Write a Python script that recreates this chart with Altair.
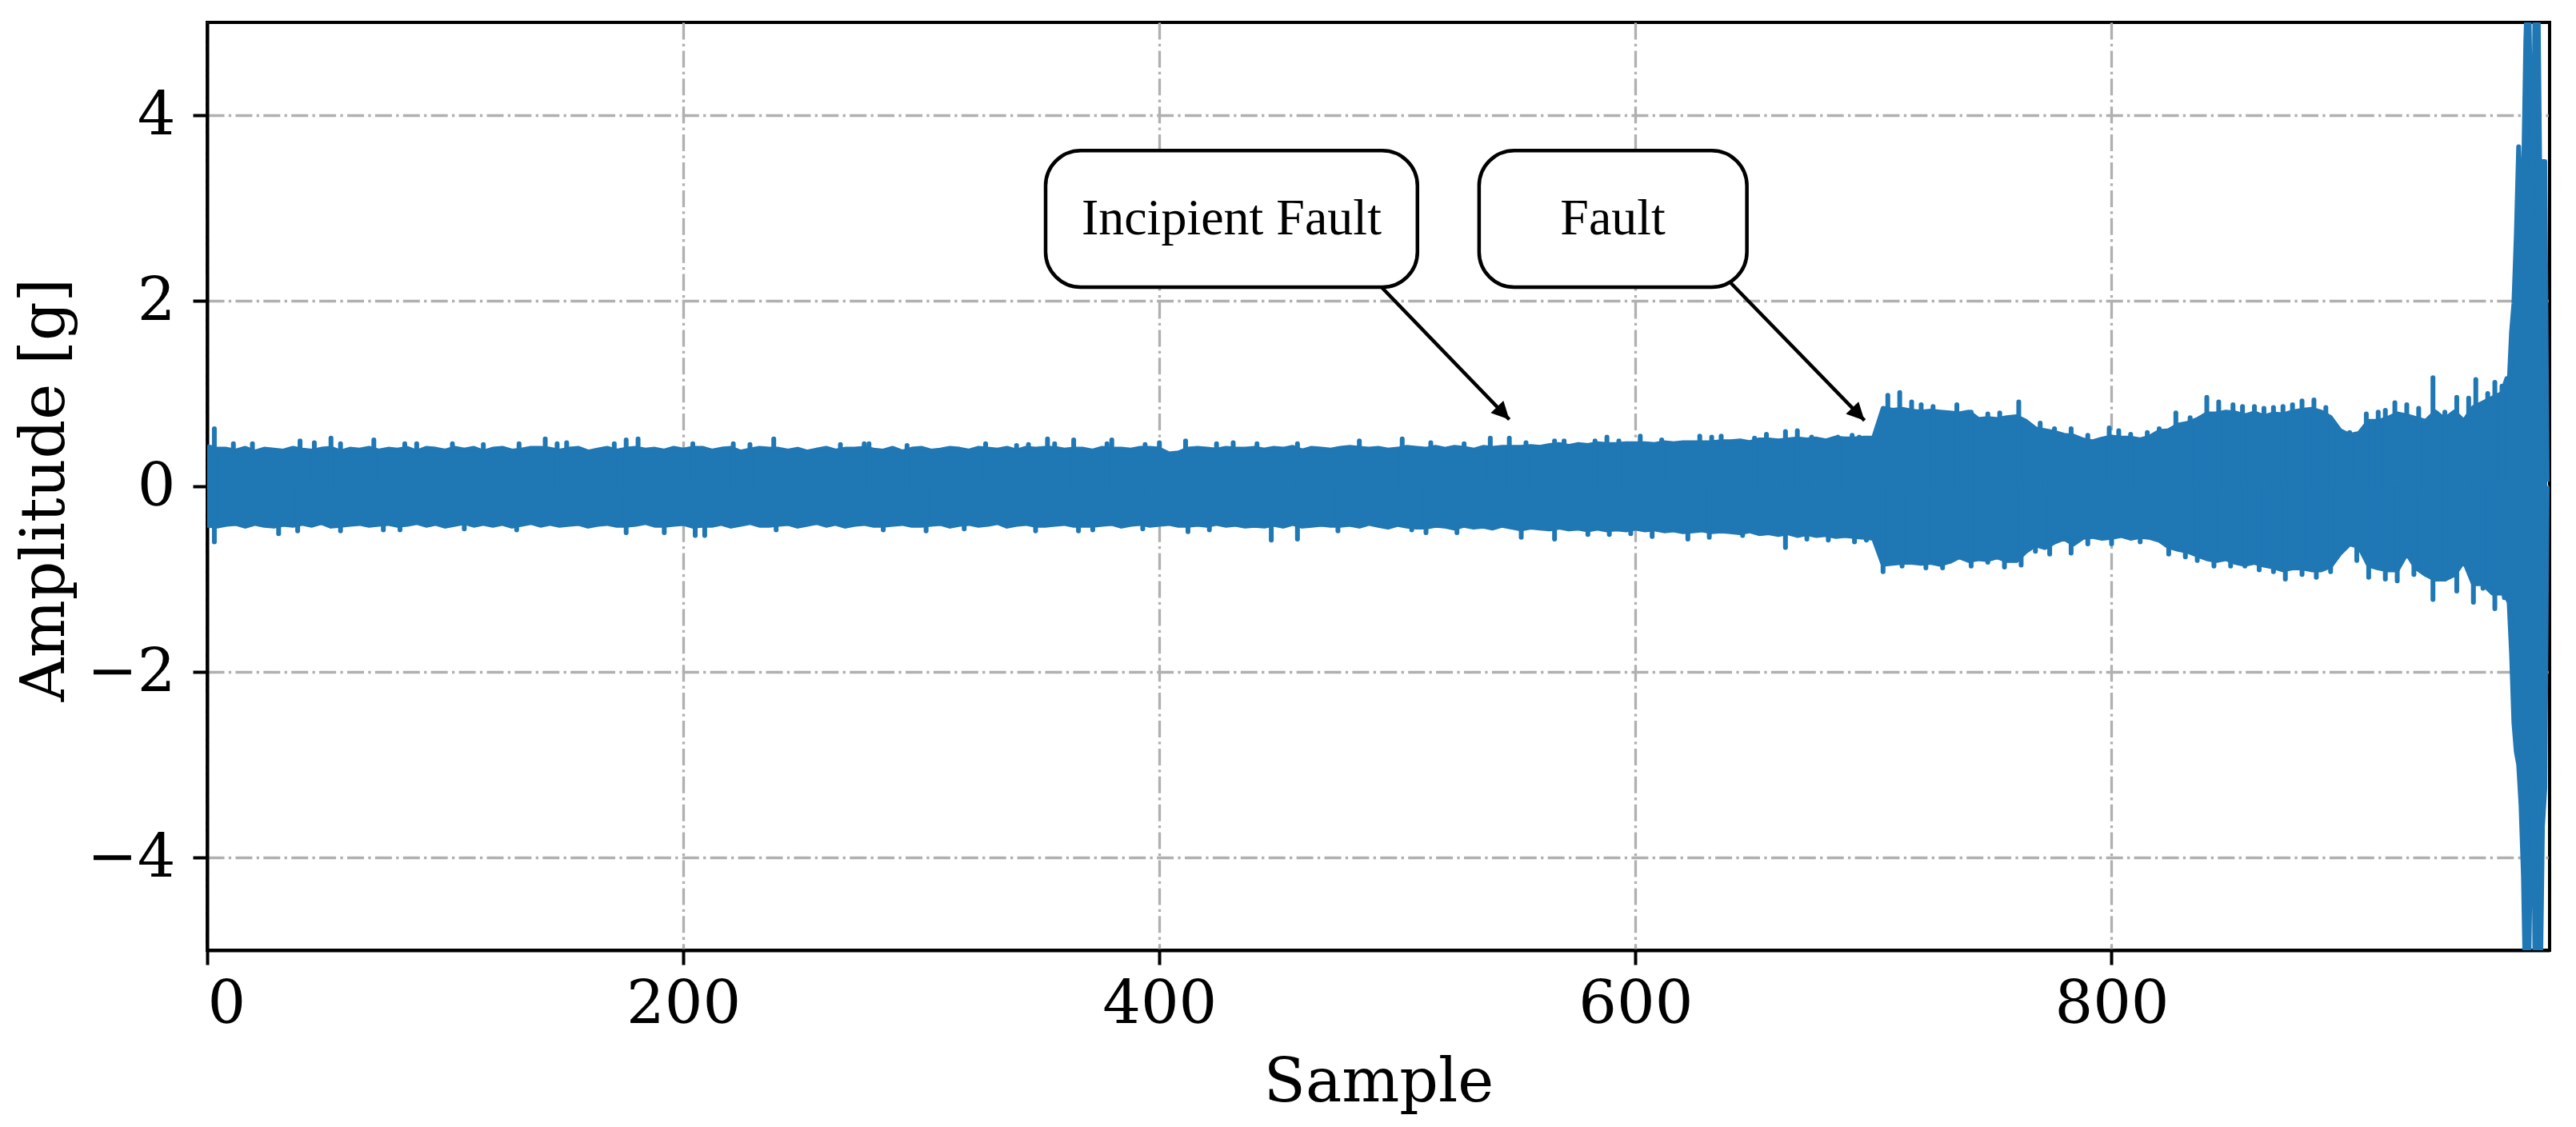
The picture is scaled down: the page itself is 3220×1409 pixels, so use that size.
import altair as alt
import pandas as pd

# ---- signal envelope (sample index -> amplitude in g) ----
coarse_samples = list(range(0, 965, 4))
end_samples = list(range(966, 984))

upper_coarse = [
    0.43, 0.40, 0.40, 0.38, 0.41, 0.37, 0.40, 0.39, 0.38, 0.41,
    0.39, 0.38, 0.40, 0.41, 0.37, 0.40, 0.39, 0.41, 0.38, 0.40,
    0.39, 0.41, 0.37, 0.41, 0.40, 0.38, 0.41, 0.39, 0.41, 0.37,
    0.40, 0.41, 0.38, 0.39, 0.41, 0.41, 0.40, 0.38, 0.40, 0.41,
    0.37, 0.39, 0.41, 0.38, 0.40, 0.41, 0.39, 0.40, 0.38, 0.41,
    0.39, 0.41, 0.41, 0.38, 0.40, 0.41, 0.37, 0.39, 0.41, 0.40,
    0.40, 0.38, 0.40, 0.37, 0.39, 0.41, 0.38, 0.40, 0.40, 0.41,
    0.39, 0.38, 0.41, 0.37, 0.40, 0.41, 0.38, 0.39, 0.41, 0.40,
    0.38, 0.41, 0.40, 0.39, 0.41, 0.38, 0.41, 0.40, 0.41, 0.41,
    0.39, 0.40, 0.40, 0.38, 0.41, 0.40, 0.40, 0.39, 0.41, 0.41,
    0.40, 0.35, 0.36, 0.40, 0.41, 0.40, 0.39, 0.41, 0.40, 0.40,
    0.41, 0.39, 0.41, 0.40, 0.42, 0.38, 0.41, 0.40, 0.39, 0.41,
    0.42, 0.41, 0.40, 0.41, 0.39, 0.40, 0.42, 0.41, 0.40, 0.42,
    0.40, 0.42, 0.41, 0.39, 0.42, 0.41, 0.42, 0.42, 0.42, 0.43,
    0.42, 0.44, 0.45, 0.43, 0.45, 0.44, 0.46, 0.45, 0.45, 0.46,
    0.46, 0.46, 0.45, 0.47, 0.46, 0.47, 0.47, 0.47, 0.47, 0.48,
    0.48, 0.49, 0.47, 0.50, 0.50, 0.49, 0.50, 0.51, 0.50, 0.51,
    0.49, 0.52, 0.51, 0.51, 0.52, 0.52, 0.84, 0.82, 0.83, 0.81,
    0.80, 0.81, 0.80, 0.79, 0.78, 0.80, 0.72, 0.73, 0.72, 0.74,
    0.75, 0.70, 0.62, 0.60, 0.58, 0.55, 0.54, 0.50, 0.48, 0.51,
    0.53, 0.52, 0.52, 0.50, 0.53, 0.59, 0.60, 0.66, 0.68, 0.72,
    0.78, 0.78, 0.80, 0.79, 0.76, 0.79, 0.75, 0.78, 0.77, 0.80,
    0.82, 0.83, 0.80, 0.74, 0.60, 0.55, 0.57, 0.70, 0.70, 0.73,
    0.78, 0.76, 0.73, 0.70, 0.80, 0.72, 0.80, 0.70, 0.85, 0.90,
    0.95, 1.00,
]
lower_coarse = [
    -0.42, -0.43, -0.41, -0.40, -0.43, -0.40, -0.42, -0.43, -0.41, -0.42,
    -0.40, -0.42, -0.39, -0.43, -0.42, -0.41, -0.40, -0.42, -0.41, -0.40,
    -0.42, -0.41, -0.39, -0.42, -0.40, -0.43, -0.41, -0.39, -0.42, -0.40,
    -0.42, -0.40, -0.43, -0.41, -0.39, -0.42, -0.40, -0.42, -0.41, -0.40,
    -0.43, -0.41, -0.40, -0.42, -0.42, -0.41, -0.39, -0.42, -0.42, -0.41,
    -0.40, -0.43, -0.42, -0.42, -0.40, -0.43, -0.41, -0.39, -0.42, -0.42,
    -0.41, -0.40, -0.43, -0.41, -0.39, -0.42, -0.40, -0.43, -0.41, -0.40,
    -0.42, -0.42, -0.41, -0.40, -0.42, -0.42, -0.41, -0.40, -0.43, -0.41,
    -0.40, -0.42, -0.41, -0.39, -0.43, -0.41, -0.40, -0.42, -0.42, -0.41,
    -0.40, -0.42, -0.42, -0.42, -0.41, -0.40, -0.43, -0.41, -0.40, -0.42,
    -0.41, -0.40, -0.42, -0.42, -0.41, -0.42, -0.40, -0.42, -0.41, -0.43,
    -0.42, -0.43, -0.41, -0.43, -0.40, -0.43, -0.42, -0.41, -0.42, -0.42,
    -0.41, -0.43, -0.40, -0.42, -0.44, -0.41, -0.43, -0.44, -0.44, -0.42,
    -0.43, -0.45, -0.42, -0.44, -0.43, -0.45, -0.42, -0.44, -0.46, -0.44,
    -0.45, -0.46, -0.44, -0.46, -0.45, -0.47, -0.45, -0.47, -0.46, -0.47,
    -0.45, -0.47, -0.46, -0.48, -0.47, -0.49, -0.48, -0.47, -0.49, -0.48,
    -0.49, -0.50, -0.48, -0.51, -0.50, -0.52, -0.50, -0.53, -0.51, -0.53,
    -0.52, -0.54, -0.53, -0.54, -0.55, -0.56, -0.84, -0.83, -0.82, -0.82,
    -0.83, -0.82, -0.84, -0.81, -0.76, -0.80, -0.78, -0.79, -0.76, -0.80,
    -0.80, -0.70, -0.63, -0.66, -0.60, -0.56, -0.62, -0.55, -0.54, -0.56,
    -0.55, -0.53, -0.56, -0.54, -0.55, -0.58, -0.65, -0.68, -0.70, -0.74,
    -0.78, -0.80, -0.78, -0.82, -0.84, -0.82, -0.85, -0.87, -0.90, -0.88,
    -0.88, -0.90, -0.90, -0.86, -0.72, -0.62, -0.65, -0.85, -0.88, -0.90,
    -0.90, -0.72, -0.88, -0.95, -1.00, -1.00, -0.95, -0.80, -1.05, -1.05,
    -1.15, -1.15,
]
upper_end = [1.16, 1.10, 1.66, 1.97, 2.70, 3.66, 2.83, 3.24, 4.80, 5.60,
             4.10, 2.80, 5.60, 5.60, 3.05, 3.50, 3.50, 0.05]
lower_end = [-1.20, -1.25, -1.79, -2.55, -2.86, -3.00, -3.44, -4.20, -5.60, -5.60,
             -3.90, -2.47, -5.60, -5.60, -5.60, -3.67, -3.25, 0.00]

# single-sample peaks standing out of the envelope
peak_up_samples = [
    3, 11, 19, 39, 45, 52, 56, 70, 83, 88, 103, 116, 131, 142, 147, 151, 171, 176, 181,
    204, 221, 228, 238, 266, 276, 278, 294, 327, 340, 345, 353, 356, 364, 378, 380, 394,
    400, 411, 424, 431, 441, 458, 484, 502, 514, 528, 539, 547, 554, 566, 570, 583, 588,
    593, 602, 611, 627, 632, 636, 650, 655, 663, 668, 674, 685, 691, 694, 706, 711, 716,
    720, 725, 735, 753, 761, 783, 799, 808, 827, 840, 845, 851, 860, 868, 880, 885, 890,
    907, 919, 924, 935, 945, 953, 961, 964,
    741, 748, 770, 776, 790, 803, 815, 820, 833, 855, 864, 872, 876, 895, 900, 912, 915,
    929, 940, 950, 958,
]
peak_up_values = [
    0.62, 0.46, 0.46, 0.49, 0.47, 0.52, 0.46, 0.50, 0.46, 0.46, 0.46, 0.45, 0.46, 0.51, 0.46, 0.47, 0.46, 0.50, 0.51,
    0.46, 0.46, 0.45, 0.51, 0.45, 0.46, 0.46, 0.44, 0.46, 0.44, 0.45, 0.51, 0.46, 0.50, 0.46, 0.50, 0.45,
    0.47, 0.49, 0.46, 0.47, 0.46, 0.46, 0.49, 0.51, 0.47, 0.46, 0.52, 0.52, 0.47, 0.49, 0.49, 0.49, 0.53,
    0.49, 0.54, 0.50, 0.54, 0.53, 0.54, 0.52, 0.56, 0.59, 0.60, 0.53, 0.53, 0.55, 0.53, 0.98, 1.01, 0.91,
    0.88, 0.86, 0.88, 0.79, 0.91, 0.62, 0.63, 0.56, 0.79, 0.96, 0.91, 0.88, 0.86, 0.85, 0.92, 0.93, 0.85,
    0.78, 0.90, 0.88, 1.17, 0.96, 1.15, 1.12, 1.08,
    0.80, 0.78, 0.68, 0.62, 0.55, 0.60, 0.58, 0.62, 0.74, 0.86, 0.84, 0.86, 0.88, 0.62, 0.58, 0.80, 0.82,
    0.84, 0.80, 0.95, 1.00,
]
peak_lo_samples = [
    3, 30, 38, 56, 74, 81, 108, 130, 176, 192, 205, 209, 239, 284, 302, 318, 348, 366,
    372, 393, 412, 421, 447, 458, 475, 506, 512, 525, 552, 566, 580, 589, 598, 607, 622,
    631, 645, 663, 672, 681, 692, 697, 704, 712, 722, 729, 741, 755, 762, 774, 783, 824,
    831, 843, 856, 873, 886, 908, 915, 935, 945, 952, 961, 965,
    748, 768, 790, 800, 812, 836, 850, 862, 868, 880, 892, 903, 920, 927, 940, 956,
]
peak_lo_values = [
    -0.60, -0.51, -0.48, -0.48, -0.47, -0.47, -0.46, -0.47, -0.50, -0.50, -0.53, -0.53, -0.47, -0.47, -0.48, -0.46, -0.48, -0.48,
    -0.47, -0.46, -0.49, -0.47, -0.58, -0.57, -0.48, -0.47, -0.50, -0.50, -0.55, -0.57, -0.52, -0.52, -0.51, -0.54, -0.57,
    -0.55, -0.53, -0.66, -0.57, -0.58, -0.60, -0.58, -0.92, -0.86, -0.88, -0.88, -0.86, -0.87, -0.85, -0.73, -0.72, -0.73,
    -0.76, -0.86, -0.86, -1.00, -0.98, -0.98, -1.00, -1.22, -1.13, -1.25, -1.32, -1.20,
    -0.82, -0.70, -0.62, -0.62, -0.60, -0.80, -0.86, -0.90, -0.92, -0.95, -0.92, -0.80, -1.02, -0.95, -1.00, -1.10,
]

# ---- annotations (data coordinates) ----
labels = ["Incipient Fault", "Fault"]
box_x0 = [352.2, 534.3]
box_x1 = [508.4, 646.8]
box_y0 = [2.147, 2.147]
box_y1 = [3.619, 3.619]
text_x = [430.3, 590.5]
text_y = [2.883, 2.883]
tail_x = [493.3, 640.1]
tail_y = [2.147, 2.19]
tip_x = [547.0, 696.2]
tip_y = [0.72, 0.71]
head_angle = [136, 136]

sig = pd.DataFrame({
    "sample": coarse_samples + end_samples,
    "upper": upper_coarse + upper_end,
    "lower": lower_coarse + lower_end,
})
peaks = pd.DataFrame({
    "sample": peak_up_samples + peak_lo_samples,
    "v": peak_up_values + peak_lo_values,
})
ann = pd.DataFrame({
    "label": labels, "bx0": box_x0, "bx1": box_x1, "by0": box_y0, "by1": box_y1,
    "tx": text_x, "ty": text_y, "ax0": tail_x, "ay0": tail_y, "ax1": tip_x, "ay1": tip_y,
    "ang": head_angle,
})

BLUE = "#1f77b4"
xscale = alt.Scale(domain=[0, 984], nice=False, zero=False)
yscale = alt.Scale(domain=[-5, 5], nice=False)

xaxis = alt.Axis(values=[0, 200, 400, 600, 800], format="d", title="Sample",
                 labelPadding=13, titleY=188, titleBaseline="alphabetic")
yaxis = alt.Axis(values=[-4, -2, 0, 2, 4], format="d", title="Amplitude [g]",
                 labelExpr="replace(datum.label, '-', '\u2212')", labelLimit=500,
                 labelPadding=22, titleX=-180, titleY=584, titleAngle=-90,
                 titleBaseline="alphabetic", titleAlign="center")

base = alt.Chart(sig)
area = base.mark_area(color=BLUE, clip=True, opacity=1).encode(
    x=alt.X("sample:Q", scale=xscale, axis=xaxis),
    y=alt.Y("lower:Q", scale=yscale, axis=yaxis),
    y2="upper:Q",
)
up_line = base.mark_line(color=BLUE, strokeWidth=6, clip=True, strokeJoin="round").encode(
    x=alt.X("sample:Q", scale=xscale), y=alt.Y("upper:Q", scale=yscale))
lo_line = base.mark_line(color=BLUE, strokeWidth=6, clip=True, strokeJoin="round").encode(
    x=alt.X("sample:Q", scale=xscale), y=alt.Y("lower:Q", scale=yscale))
spikes = alt.Chart(peaks).mark_rule(color=BLUE, strokeWidth=6, strokeCap="round", clip=True).encode(
    x=alt.X("sample:Q", scale=xscale), y=alt.Y("v:Q", scale=yscale), y2=alt.datum(0))

a = alt.Chart(ann)
boxes = a.mark_rect(fill="white", stroke="black", strokeWidth=4.5, cornerRadius=44).encode(
    x=alt.X("bx0:Q", scale=xscale), x2="bx1:Q",
    y=alt.Y("by0:Q", scale=yscale), y2="by1:Q")
texts = a.mark_text(font="Liberation Serif", fontSize=64, color="black",
                    align="center", baseline="middle").encode(
    x=alt.X("tx:Q", scale=xscale), y=alt.Y("ty:Q", scale=yscale), text="label:N")
rules = a.mark_rule(color="black", strokeWidth=4.5).encode(
    x=alt.X("ax0:Q", scale=xscale), y=alt.Y("ay0:Q", scale=yscale),
    x2="ax1:Q", y2="ay1:Q")
heads = a.mark_point(shape="M0,0L-1,2L1,2Z", filled=True, color="black", opacity=1,
                     size=484).encode(
    x=alt.X("ax1:Q", scale=xscale), y=alt.Y("ay1:Q", scale=yscale),
    angle=alt.Angle("ang:Q", scale=None))

chart = alt.layer(area, up_line, lo_line, spikes, boxes, rules, heads, texts).properties(
    width=2928, height=1160,
    padding={"left": 251, "top": 20, "right": 25, "bottom": 205},
    autosize=alt.AutoSizeParams(type="none"),
    background="white",
).configure_view(stroke="black", strokeWidth=4).configure_axis(
    domainColor="black", domainWidth=4, tickColor="black", tickWidth=4, tickSize=18,
    labelFont="DejaVu Serif", labelFontSize=75, labelColor="black",
    titleFont="DejaVu Serif", titleFontSize=76, titleFontWeight="normal", titleColor="black",
    gridColor="#b0b0b0", gridWidth=3.3, gridDash=[21, 5.3, 3.3, 5.3], gridOpacity=1,
)

chart.save("out.html", embed_options={"renderer": "svg", "actions": False})
